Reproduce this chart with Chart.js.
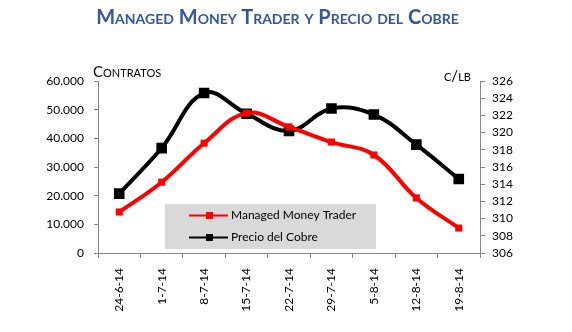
<!DOCTYPE html>
<html>
<head>
<meta charset="utf-8">
<script src="https://cdn.jsdelivr.net/npm/chart.js@4/dist/chart.umd.min.js"></script>
<style>
  html, body { margin: 0; padding: 0; background: #fff; }
  #wrap { position: relative; width: 572px; height: 332px; }
  #chart { position: absolute; left: 0; top: 0; }
  .lbl { position: absolute; font-family: Lato, "Open Sans", sans-serif; font-variant: small-caps; white-space: nowrap; }
  #title { left: 0; width: 555px; top: 4px; text-align: center; font-size: 20px; font-weight: bold; color: #34589a; }
  #yl { left: 93px; top: 62px; font-size: 15px; color: #000; }
  #yr { left: 444px; top: 66px; font-size: 15px; color: #000; }
</style>
</head>
<body>
<div id="wrap">
  <canvas id="chart" width="572" height="332"></canvas>
  <div class="lbl" id="title">Managed Money Trader y Precio del Cobre</div>
  <div class="lbl" id="yl">Contratos</div>
  <div class="lbl" id="yr">c/lb</div>
</div>
<script>
const fechas = ['24-6-14', '1-7-14', '8-7-14', '15-7-14', '22-7-14', '29-7-14', '5-8-14', '12-8-14', '19-8-14'];
const managedMoney = [14300, 24700, 38300, 48800, 44000, 38700, 34200, 19200, 8700];
const precioCobre = [312.9, 318.2, 324.6, 322.2, 320.2, 322.8, 322.1, 318.6, 314.6];
const contratosTicks = [0, 10000, 20000, 30000, 40000, 50000, 60000];
const centavosTicks = [306, 308, 310, 312, 314, 316, 318, 320, 322, 324, 326];

const axisGray = '#868686';
const font = { family: 'Lato, "Open Sans", sans-serif', size: 12 };

function fmtMiles(v) {
  return String(v).replace(/\B(?=(\d{3})+(?!\d))/g, '.');
}

// legend drawn inside the plot, on a grey box like the original
const boxLegend = {
  id: 'boxLegend',
  afterDatasetsDraw(chart) {
    const ctx = chart.ctx;
    ctx.save();
    ctx.fillStyle = '#d9d9d9';
    ctx.fillRect(165, 204, 211, 45);
    chart.data.datasets.forEach((ds, i) => {
      const y = 215.5 + i * 22;
      ctx.strokeStyle = ds.borderColor;
      ctx.lineWidth = 2;
      ctx.beginPath();
      ctx.moveTo(189, y);
      ctx.lineTo(228, y);
      ctx.stroke();
      ctx.fillStyle = ds.borderColor;
      ctx.fillRect(206, y - 3.5, 7, 7);
      ctx.fillStyle = '#000';
      ctx.font = '12px Lato, "Open Sans", sans-serif';
      ctx.textBaseline = 'middle';
      ctx.fillText(ds.label, 231, y);
    });
    ctx.restore();
  }
};

new Chart(document.getElementById('chart'), {
  type: 'line',
  data: {
    labels: fechas,
    datasets: [
      {
        label: 'Managed Money Trader',
        data: managedMoney,
        yAxisID: 'y',
        borderColor: '#ff0000',
        backgroundColor: '#ff0000',
        borderWidth: 4,
        tension: 0.4,
        pointStyle: 'rect',
        pointRadius: 5,
        pointBorderWidth: 0
      },
      {
        label: 'Precio del Cobre',
        data: precioCobre,
        yAxisID: 'y1',
        borderColor: '#000000',
        backgroundColor: '#000000',
        borderWidth: 4,
        tension: 0.4,
        pointStyle: 'rect',
        pointRadius: 7.5,
        pointBorderWidth: 0
      }
    ]
  },
  options: {
    responsive: false,
    animation: false,
    layout: { padding: { top: 81, left: 0, right: 0, bottom: 0 } },
    plugins: {
      legend: { display: false },
      tooltip: { enabled: false }
    },
    scales: {
      x: {
        offset: true,
        grid: { offset: true, drawOnChartArea: false, tickLength: 5, color: axisGray },
        border: { color: axisGray },
        ticks: { color: '#000', font: font, minRotation: 90, maxRotation: 90, padding: 10, autoSkip: false },
        afterFit(s) { s.height = 79; }
      },
      y: {
        position: 'left',
        min: 0,
        max: 60000,
        afterBuildTicks(s) { s.ticks = contratosTicks.map(v => ({ value: v })); },
        grid: { drawOnChartArea: false, tickLength: 4, color: axisGray },
        border: { color: axisGray },
        ticks: { color: '#000', font: font, padding: 10, autoSkip: false, callback: v => fmtMiles(v) },
        afterFit(s) { s.width = 98; }
      },
      y1: {
        position: 'right',
        min: 306,
        max: 326,
        afterBuildTicks(s) { s.ticks = centavosTicks.map(v => ({ value: v })); },
        ticks: { color: '#000', font: font, padding: 7, autoSkip: false },
        grid: { drawOnChartArea: false, tickLength: 5, color: axisGray },
        border: { color: axisGray },
        afterFit(s) { s.width = 92; }
      }
    }
  },
  plugins: [boxLegend]
});
</script>
</body>
</html>
